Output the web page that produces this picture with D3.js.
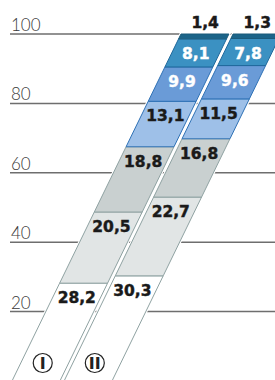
<!DOCTYPE html>
<html>
<head>
<meta charset="utf-8">
<script src="https://cdn.jsdelivr.net/npm/d3@7"></script>
<style>
  body { margin: 0; background: #fff; }
  svg { display: block; }
  .tick-label { font-family: Lato, "Open Sans", sans-serif; font-weight: 300; font-size: 17px; fill: #3a3a3a; }
  .seg-label { font-family: "DejaVu Sans", sans-serif; font-weight: bold; font-size: 15.5px; stroke-width: 0.45px; }
  .bar-name { font-family: "DejaVu Sans", sans-serif; font-weight: bold; font-size: 16px; fill: #222; }
</style>
</head>
<body>
<div class="svg-container"></div>
<script>
// data
var bars = ["I", "II"];
var valuesI = [28.2, 20.5, 18.8, 13.1, 9.9, 8.1, 1.4];
var valuesII = [30.3, 22.7, 16.8, 11.5, 9.6, 7.8, 1.3];
var tickValues = [20, 40, 60, 80, 100];

// colours per stack level, bottom -> top
var fills   = ["#ffffff", "#e1e5e5", "#c9d0d0", "#9ec0e8", "#6a9bd7", "#3b91c2", "#1b6489"];
var strokes = ["#8fa2a2", "#8fa2a2", "#8fa2a2", "#2f72b6", "#2f72b6", "#20699c", "#1b5a7a"];
var textCol = ["#1a1a1a", "#1a1a1a", "#1a1a1a", "#1a1a1a", "#ffffff", "#ffffff", "#1a1a1a"];

var width = 275, height = 380;
var slope = 0.487; // horizontal shift per pixel of height
var baseY = 381;

var svg = d3.select(".svg-container").append("svg")
  .attr("width", width)
  .attr("height", height);

var y = d3.scaleLinear().domain([0, 100]).range([baseY, 34]);
var x = d3.scaleBand().domain(bars).range([12, 112]).paddingInner(0.08);
var bw = x.bandwidth();

function shift(py) { return slope * (baseY - py); }

// gridlines + tick labels
var ticks = svg.append("g");
ticks.selectAll("line")
  .data(tickValues)
  .enter().append("line")
  .attr("x1", 10).attr("x2", width)
  .attr("y1", function(d) { return y(d); })
  .attr("y2", function(d) { return y(d); })
  .attr("stroke", "#6e6e6e")
  .attr("stroke-width", 1.5);

ticks.selectAll("text")
  .data(tickValues)
  .enter().append("text")
  .attr("class", "tick-label")
  .attr("x", 11)
  .attr("y", function(d) { return y(d) - 3; })
  .text(function(d) { return d; });

// build stacked segments
var series = [valuesI, valuesII];
var segs = [];
series.forEach(function(vals, bi) {
  var acc = 0;
  vals.forEach(function(v, i) {
    segs.push({bar: bars[bi], level: i, v0: acc, v1: acc + v, value: v});
    acc += v;
  });
});

function segPath(d) {
  var x0 = x(d.bar);
  var ya = y(d.v0), yb = y(d.v1);
  return "M" + (x0 + shift(ya)) + "," + ya +
    "L" + (x0 + bw + shift(ya)) + "," + ya +
    "L" + (x0 + bw + shift(yb)) + "," + yb +
    "L" + (x0 + shift(yb)) + "," + yb + "Z";
}

// white halo so the gap between bars stays clear
svg.append("g").selectAll("path")
  .data(bars)
  .enter().append("path")
  .attr("d", function(b) { return segPath({bar: b, v0: 0, v1: 100}); })
  .attr("fill", "#fff")
  .attr("stroke", "#fff")
  .attr("stroke-width", 3);

var segGroup = svg.append("g");
segGroup.selectAll("path")
  .data(segs)
  .enter().append("path")
  .attr("d", segPath)
  .attr("fill", function(d) { return fills[d.level]; })
  .attr("stroke", function(d) { return strokes[d.level]; })
  .attr("stroke-width", 1)
  .attr("stroke-linejoin", "miter");

// labels
svg.append("g").selectAll("text")
  .data(segs)
  .enter().append("text")
  .attr("class", "seg-label")
  .attr("fill", function(d) { return textCol[d.level]; })
  .attr("stroke", function(d) { return textCol[d.level]; })
  .attr("text-anchor", function(d) { return d.level === 6 ? "end" : "middle"; })
  .attr("x", function(d) {
    var yt = y(d.v1);
    if (d.level === 6) return x(d.bar) + bw + shift(yt) - 10;
    var yb = yt + 14;
    return x(d.bar) + bw / 2 + shift(yb);
  })
  .attr("y", function(d) {
    if (d.level === 6) return y(d.v1) - 6;
    return y(d.v1) + 20;
  })
  .text(function(d) { return d3.format(".1f")(d.value).replace(".", ","); });

// circled bar names
var names = svg.append("g").selectAll("g")
  .data(bars)
  .enter().append("g")
  .attr("transform", function(b) {
    var cy = 363;
    return "translate(" + (x(b) + bw / 2 + shift(cy) - 2) + "," + cy + ")";
  });
names.append("circle")
  .attr("r", 9.5)
  .attr("fill", "#fff")
  .attr("stroke", "#222")
  .attr("stroke-width", 1.2);
names.append("text")
  .attr("class", "bar-name")
  .attr("text-anchor", "middle")
  .attr("dy", "0.37em")
  .text(function(b) { return b; });
</script>
</body>
</html>
